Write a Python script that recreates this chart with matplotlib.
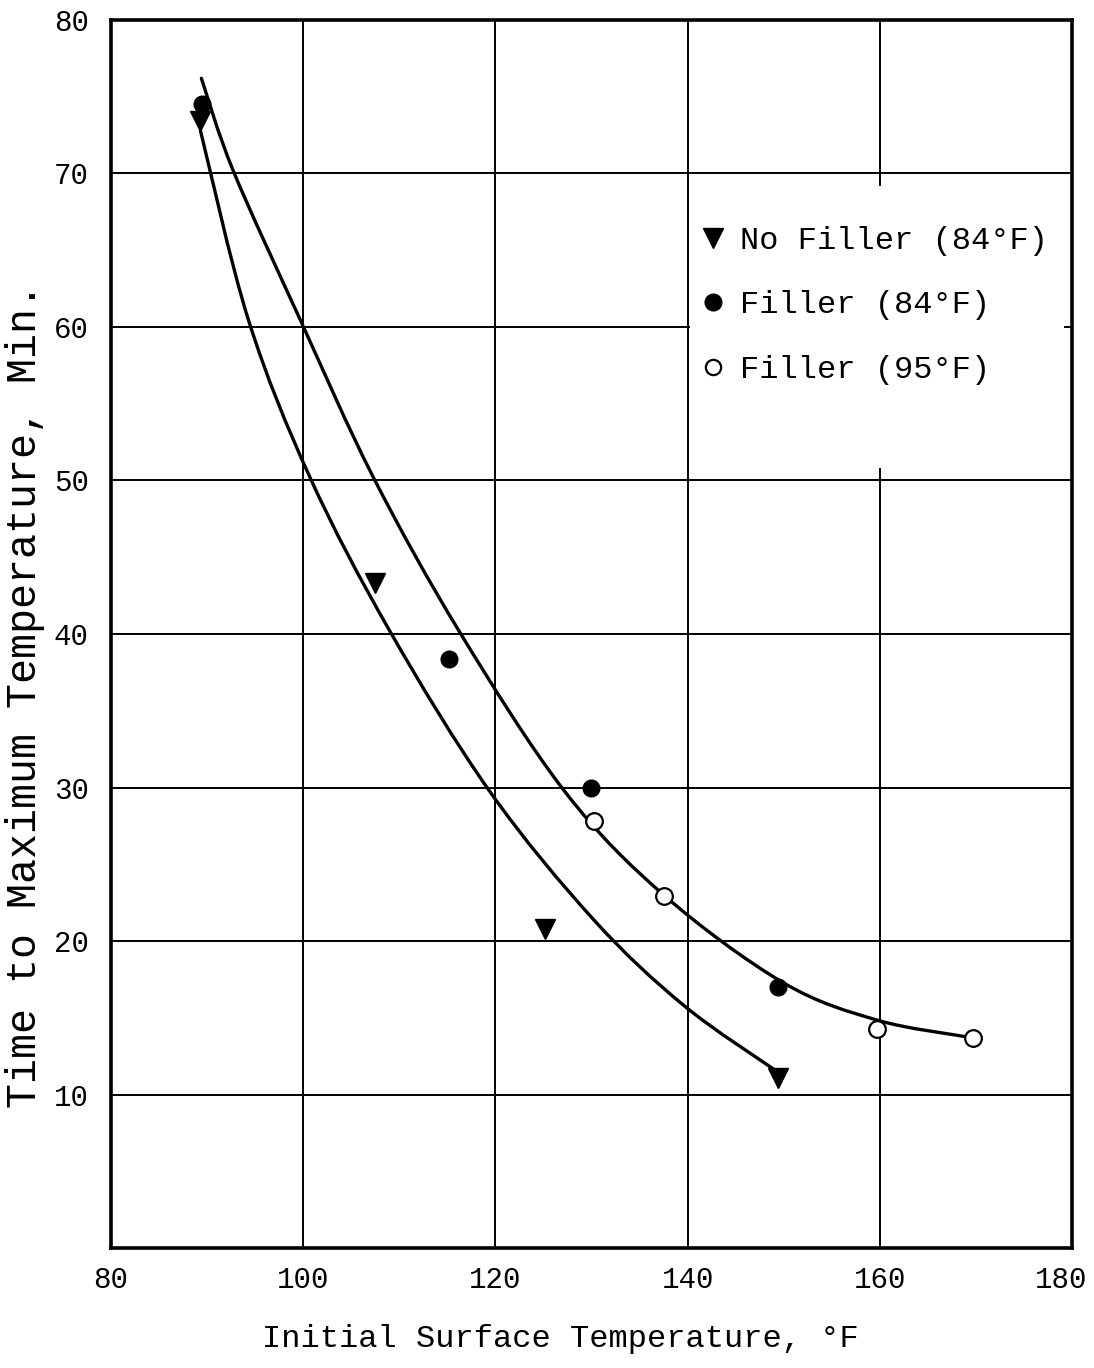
import matplotlib.pyplot as plt
from matplotlib.lines import Line2D
from matplotlib.path import Path
from matplotlib.patches import PathPatch, Rectangle
from matplotlib.transforms import ScaledTranslation

plt.rcParams['font.family'] = ['Liberation Mono', 'DejaVu Sans Mono']

# measured points
no_filler_x = [89.3, 107.5, 125.2, 149.4]
no_filler_y = [73.4, 43.3, 20.8, 11.1]

filler84_x = [89.5, 115.2, 129.9, 149.4]
filler84_y = [74.5, 38.4, 30.0, 17.0]

filler95_x = [130.2, 137.5, 159.7, 169.7]
filler95_y = [27.8, 22.9, 14.3, 13.7]

# hand-drawn fitting curves
lower_x = [89.3, 94.3, 100.7, 109.0, 119.4, 130.2, 139.6, 149.3]
lower_y = [72.8, 60.45, 50.2, 40.2, 29.75, 21.4, 15.8, 11.5]

upper_x = [89.4, 92.7, 99.7, 107.3, 116.3, 127.2, 137.5, 149.9, 159.7, 169.1]
upper_y = [76.2, 70.2, 60.45, 50.2, 40.1, 29.75, 23.0, 17.3, 14.85, 13.75]


def smooth_path(xs, ys):
    # Catmull-Rom through the points, drawn as cubic Bezier segments
    pts = list(zip(xs, ys))
    n = len(pts)
    verts = [pts[0]]
    codes = [Path.MOVETO]
    for i in range(n - 1):
        p0 = pts[max(i - 1, 0)]
        p1 = pts[i]
        p2 = pts[i + 1]
        p3 = pts[min(i + 2, n - 1)]
        c1 = (p1[0] + (p2[0] - p0[0]) / 6, p1[1] + (p2[1] - p0[1]) / 6)
        c2 = (p2[0] - (p3[0] - p1[0]) / 6, p2[1] - (p3[1] - p1[1]) / 6)
        verts += [c1, c2, p2]
        codes += [Path.CURVE4] * 3
    return Path(verts, codes)


fig = plt.figure(figsize=(10.94, 13.68), dpi=100)
ax = fig.add_axes([0.1015, 0.0877, 0.8785, 0.8977])

for cx, cy in [(lower_x, lower_y), (upper_x, upper_y)]:
    ax.add_patch(PathPatch(smooth_path(cx, cy), fill=False, edgecolor='black',
                           lw=2.4, zorder=3, capstyle='round'))

ax.plot(no_filler_x, no_filler_y, 'v', color='black', ms=15, zorder=4)
ax.plot(filler84_x, filler84_y, 'o', color='black', ms=12, zorder=4)
ax.plot(filler95_x, filler95_y, 'o', mfc='white', mec='black', mew=1.6,
        ms=12, zorder=4)

ax.set_xlim(80, 180)
ax.set_ylim(0, 80)
ax.set_xticks([80, 100, 120, 140, 160, 180])
ax.set_yticks([10, 20, 30, 40, 50, 60, 70, 80])
ax.tick_params(axis='both', length=0, labelsize=21)
ax.tick_params(axis='x', pad=13)
ax.tick_params(axis='y', pad=16)
ax.grid(True, color='black', lw=1.4)
for s in ax.spines.values():
    s.set_linewidth(2.6)

# last x label sits a little inside the right edge
last = ax.get_xticklabels()[-1]
last.set_transform(last.get_transform() + ScaledTranslation(-0.11, 0, fig.dpi_scale_trans))

# blank the grid behind the key
ax.add_patch(Rectangle((0.6025, 0.635), 0.389, 0.23, transform=ax.transAxes,
                       facecolor='white', edgecolor='none', zorder=2))

handles = [
    Line2D([], [], ls='none', marker='v', color='black', ms=15),
    Line2D([], [], ls='none', marker='o', color='black', ms=12),
    Line2D([], [], ls='none', marker='o', mfc='white', mec='black', mew=1.6, ms=11),
]
labels = ['No Filler (84°F)', 'Filler (84°F)', 'Filler (95°F)']
leg = ax.legend(handles, labels, loc='upper left', frameon=False,
                bbox_to_anchor=(700 / 1094, 1 - 226 / 1368),
                bbox_transform=fig.transFigure, fontsize=23,
                handlelength=0.8, handletextpad=0.45, labelspacing=1.08,
                borderpad=0, borderaxespad=0)
leg.set_zorder(5)

fig.text(0.512, 1 - 1339 / 1368, 'Initial Surface Temperature, °F',
         ha='center', va='center', fontsize=23)
fig.text(25 / 1094, 1 - 695 / 1368, 'Time to Maximum Temperature, Min.',
         ha='center', va='center', rotation=90, fontsize=30)

fig.savefig('out.png', dpi=100, facecolor='white')
